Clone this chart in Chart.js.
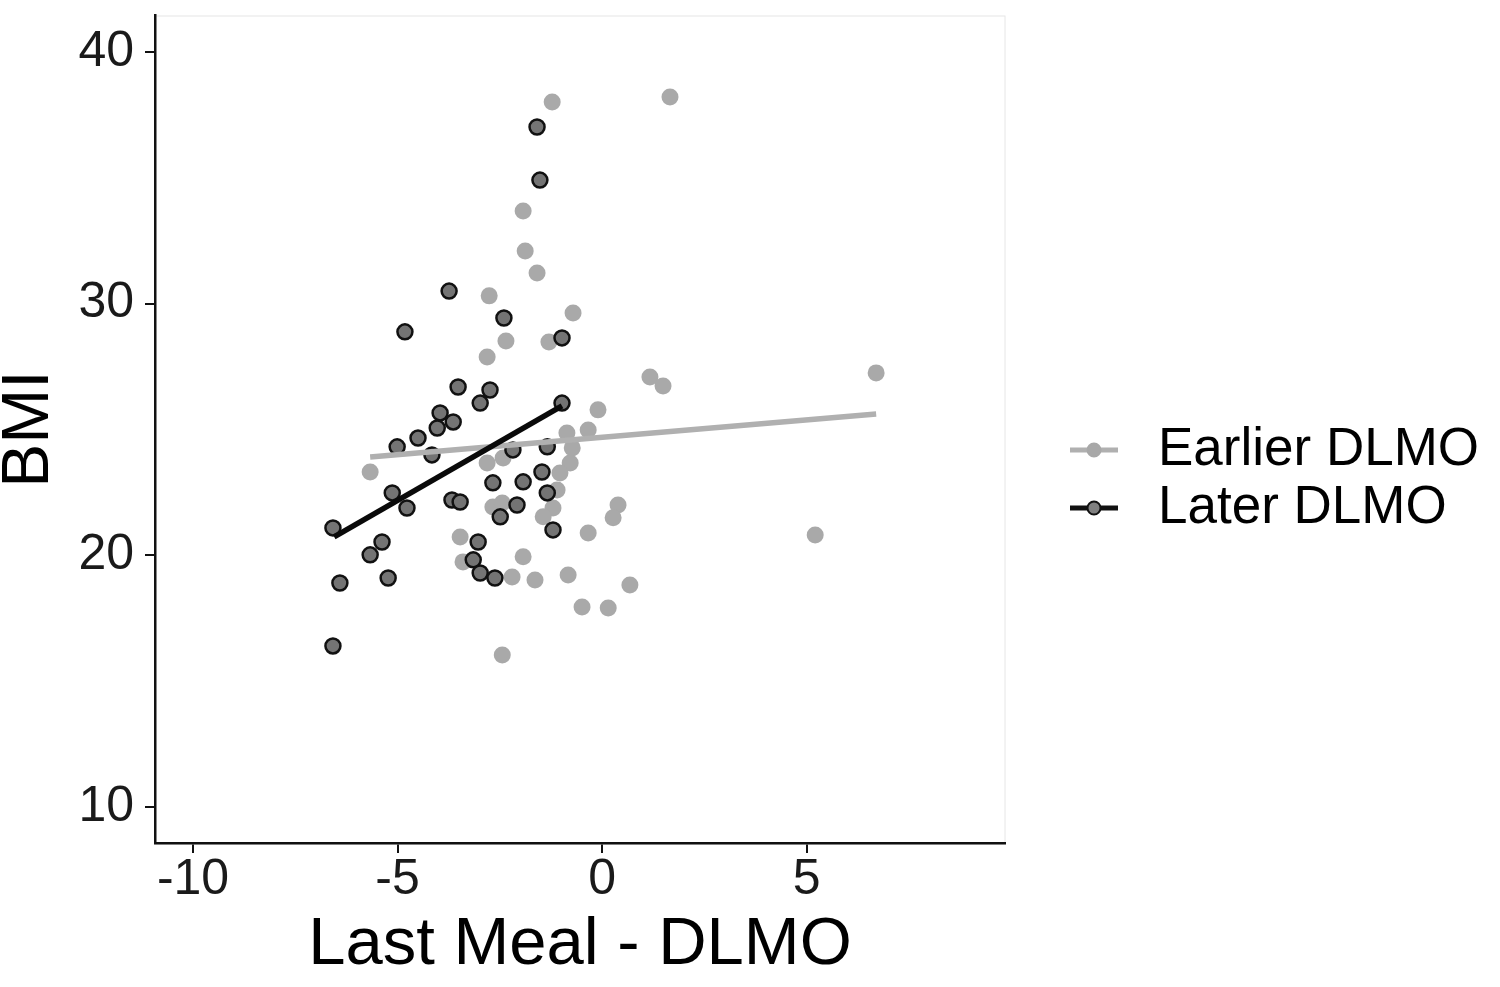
<!DOCTYPE html>
<html>
<head>
<meta charset="utf-8">
<script src="https://cdn.jsdelivr.net/npm/chart.js@4.4.0/dist/chart.umd.min.js"></script>
<style>
  html, body { margin: 0; padding: 0; background: #fff; }
  #wrap { width: 1500px; height: 987px; }
</style>
</head>
<body>
<div id="wrap"><canvas id="myChart"></canvas></div>
<script>
// values
var earlierX = [-1.22, 1.66, -1.93, -1.88, -1.59, -2.76, -0.71, -2.35, -1.30, -2.81,
                -5.67, -0.10, -0.34, -0.86, -0.73, -0.78, -1.03, -1.10, -1.20, -1.44,
                -2.81, -2.42, -2.67, -2.44, -0.34, 0.39, 0.27, -3.47, -3.40, -2.20,
                -1.64, -0.83, 0.68, -0.49, 0.15, -2.44, 1.17, 1.49, 6.70, 5.21, -1.93];
var earlierY = [38.01, 38.21, 33.68, 32.09, 31.22, 30.31, 29.63, 28.52, 28.48, 27.88,
                23.31, 25.78, 24.98, 24.86, 24.27, 23.67, 23.27, 22.60, 21.88, 21.53,
                23.67, 23.87, 21.92, 22.08, 20.89, 22.00, 21.49, 20.73, 19.74, 19.14,
                19.02, 19.22, 18.82, 17.95, 17.91, 16.04, 27.09, 26.73, 27.25, 20.81, 19.94];

var laterX = [-1.59, -1.52, -3.74, -4.82, -2.40, -0.98, -3.52, -2.74, -2.98, -0.98,
              -3.96, -3.64, -4.03, -4.50, -5.01, -4.16, -5.13, -4.77, -6.58, -5.38,
              -5.67, -6.41, -5.23, -6.58, -3.67, -3.47, -3.03, -3.15, -2.98, -2.62,
              -2.67, -1.93, -1.47, -1.34, -2.18, -2.08, -1.34, -1.20, -2.49];
var laterY = [37.02, 34.91, 30.50, 28.88, 29.43, 28.64, 26.69, 26.57, 26.05, 26.05,
              25.66, 25.30, 25.06, 24.66, 24.31, 23.99, 22.48, 21.88, 21.09, 20.53,
              20.02, 18.90, 19.10, 16.40, 22.20, 22.12, 20.53, 19.82, 19.30, 19.10,
              22.88, 22.92, 23.31, 24.31, 24.19, 22.00, 22.48, 21.01, 21.53];

// fitted lines (ends)
var earlierFitX = [-5.67, 6.70];
var earlierFitY = [23.91, 25.62];
var laterFitX = [-6.55, -0.98];
var laterFitY = [20.73, 25.94];

var xTicks = [-10, -5, 0, 5];
var yTicks = [10, 20, 30, 40];
var seriesNames = ['Earlier DLMO', 'Later DLMO'];

function pts(xs, ys) {
	return xs.map(function(x, i) { return { x: x, y: ys[i] }; });
}

var FONT = '"Liberation Sans", Arial, sans-serif';

var whiteBg = {
	id: 'whiteBg',
	beforeDraw: function(chart) {
		var c = chart.ctx;
		c.save();
		c.fillStyle = '#fff';
		c.fillRect(0, 0, chart.width, chart.height);
		var a = chart.chartArea;
		c.strokeStyle = '#e6e6e6';
		c.lineWidth = 1;
		c.strokeRect(a.left, a.top + 1, a.right - a.left, a.bottom - a.top);
		c.restore();
	}
};

var sideLegend = {
	id: 'sideLegend',
	afterDraw: function(chart) {
		var c = chart.ctx;
		var items = [
			{ text: seriesNames[0], line: '#b0b0b0', fill: '#a8a8a8', stroke: '#a8a8a8', y: 450 },
			{ text: seriesNames[1], line: '#111', fill: '#808080', stroke: '#111', y: 508 }
		];
		c.save();
		items.forEach(function(it) {
			c.strokeStyle = it.line;
			c.lineWidth = 5;
			c.beginPath();
			c.moveTo(1070, it.y);
			c.lineTo(1118, it.y);
			c.stroke();
			c.beginPath();
			c.arc(1094, it.y, 6.5, 0, Math.PI * 2);
			c.fillStyle = it.fill;
			c.fill();
			c.lineWidth = 2;
			c.strokeStyle = it.stroke;
			c.stroke();
			c.fillStyle = '#000';
			c.font = '53px ' + FONT;
			c.textBaseline = 'middle';
			c.textAlign = 'left';
			c.fillText(it.text, 1158, it.y);
		});
		c.restore();
	}
};

var ctx = document.getElementById('myChart').getContext('2d');
var chart = new Chart(ctx, {
	type : 'scatter',
	data : {
		datasets : [ {
			label : seriesNames[1] + ' fit',
			data : pts(laterFitX, laterFitY),
			showLine : true,
			borderColor : '#0a0a0a',
			borderWidth : 5.5,
			pointRadius : 0,
			order : 0
		}, {
			label : seriesNames[0] + ' fit',
			data : pts(earlierFitX, earlierFitY),
			showLine : true,
			borderColor : '#b0b0b0',
			borderWidth : 5.5,
			pointRadius : 0,
			order : 1
		}, {
			label : seriesNames[1],
			data : pts(laterX, laterY),
			backgroundColor : '#747474',
			borderColor : '#111',
			borderWidth : 2.5,
			pointRadius : 7.5,
			order : 2
		}, {
			label : seriesNames[0],
			data : pts(earlierX, earlierY),
			backgroundColor : '#a9a9a9',
			borderColor : '#a9a9a9',
			borderWidth : 0,
			pointRadius : 8.5,
			order : 3
		} ]
	},
	options : {
		responsive : true,
		maintainAspectRatio : false,
		animation : false,
		layout : { padding : { top : 15, right : 495, left : 0, bottom : 0 } },
		plugins : {
			legend : { display : false },
			tooltip : { enabled : false }
		},
		scales : {
			x : {
				type : 'linear',
				min : -10.93,
				max : 9.85,
				afterFit : function(s) { s.height = 144; s.paddingLeft = 0; s.paddingRight = 0; },
				afterBuildTicks : function(s) { s.ticks = xTicks.map(function(v) { return { value: v }; }); },
				ticks : { includeBounds : false, color : '#1a1a1a', padding : 2,
					font : { family : FONT, size : 50, lineHeight : 1 } },
				grid : { drawOnChartArea : false, color : '#111', lineWidth : 2, tickLength : 10 },
				border : { color : '#111', width : 2.5 },
				title : { display : true, text : 'Last Meal - DLMO', color : '#000',
					padding : { top : 0, bottom : 8 },
					font : { family : FONT, size : 67, lineHeight : 1 } }
			},
			y : {
				type : 'linear',
				min : 8.57,
				max : 41.47,
				afterFit : function(s) { s.width = 155; s.paddingTop = 0; s.paddingBottom = 0; },
				afterBuildTicks : function(s) { s.ticks = yTicks.map(function(v) { return { value: v }; }); },
				ticks : { includeBounds : false, color : '#1a1a1a', padding : 11,
					font : { family : FONT, size : 50 } },
				grid : { drawOnChartArea : false, color : '#111', lineWidth : 2, tickLength : 10 },
				border : { color : '#111', width : 2.5 },
				title : { display : true, text : 'BMI', color : '#000',
					padding : { top : 0, bottom : 0 },
					font : { family : FONT, size : 66, lineHeight : 0.9 } }
			}
		}
	},
	plugins : [ whiteBg, sideLegend ]
});
</script>
</body>
</html>
